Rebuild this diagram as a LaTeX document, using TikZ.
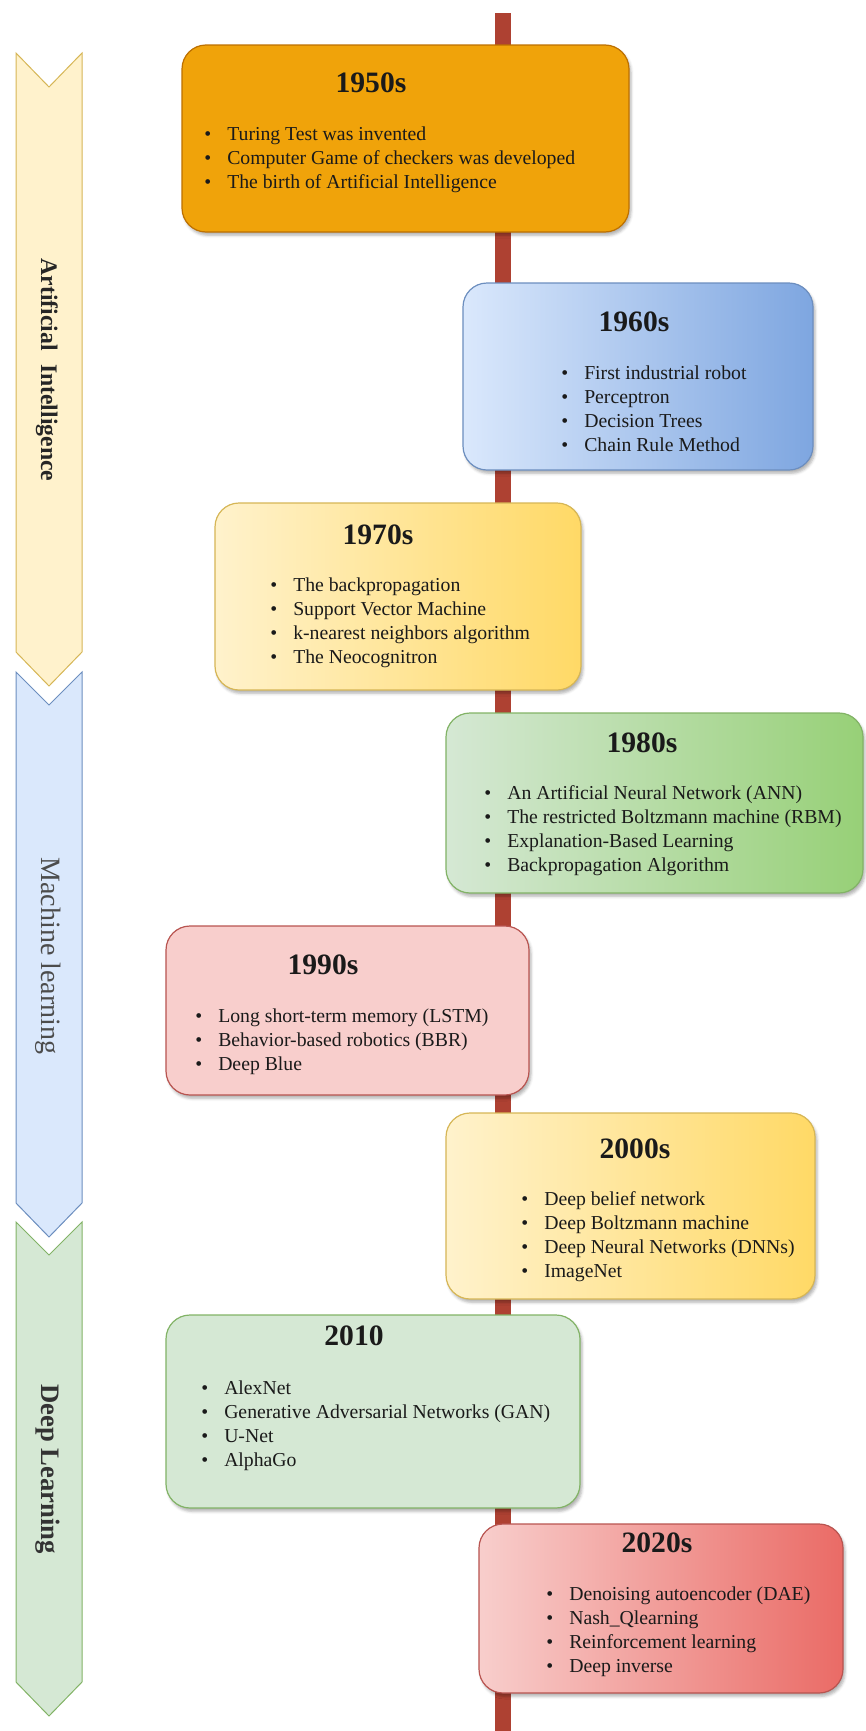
\documentclass[tikz,border=0pt]{standalone}
\usepackage{fontspec}
\setmainfont{Liberation Serif}
\usetikzlibrary{shadows.blur}

\definecolor{spine}{HTML}{AE4132}
\definecolor{ink}{HTML}{1A1A1A}
\definecolor{orangeF}{HTML}{F0A30A}
\definecolor{orangeD}{HTML}{BD7000}
\definecolor{blueL}{HTML}{DAE8FC}
\definecolor{blueR}{HTML}{7EA6E0}
\definecolor{blueD}{HTML}{6C8EBF}
\definecolor{yellowL}{HTML}{FFF2CC}
\definecolor{yellowR}{HTML}{FFD966}
\definecolor{yellowD}{HTML}{D6B656}
\definecolor{greenL}{HTML}{D5E8D4}
\definecolor{greenR}{HTML}{97D077}
\definecolor{greenD}{HTML}{82B366}
\definecolor{redL}{HTML}{F8CECC}
\definecolor{redR}{HTML}{EA6B66}
\definecolor{redD}{HTML}{B85450}

% one rounded decade card, given by its corners in pixel units
\newcommand\decadecard[6]{%
  \node[card,#6,
        minimum width={(#4-#2)*0.75pt},
        minimum height={(#5-#3)*0.75pt}]
        (#1) at ({(#2+#4)/2},{(#3+#5)/2}) {};}

% bulleted entries of a card: name prefix, text x, first baseline, items
\newcommand\cardentries[4]{%
  \foreach \t [count=\i] in {#4}{%
    \node[entry] (#1-\i) at (#2,{#3+(\i-1)*24}) {\llap{\textbullet\hspace{12pt}}\t};
  }}

\begin{document}
\begin{tikzpicture}[x=0.75pt,y=-0.75pt,
  card/.style={rectangle, rounded corners=18pt, draw, line width=0.9pt,
    inner sep=0pt, outer sep=0pt,
    blur shadow={shadow xshift=1.5pt, shadow yshift=-2.5pt,
      shadow opacity=30, shadow blur radius=2pt}},
  decade/.style={font=\fontsize{22.2pt}{24pt}\selectfont\bfseries,
    text=ink, anchor=base, inner sep=0pt},
  entry/.style={font=\fontsize{14.8pt}{17pt}\selectfont,
    text=ink, anchor=base west, inner sep=0pt},
  era/.style={rotate=-90, anchor=base, inner sep=0pt},
  band/.style={line width=0.75pt, line join=miter}
]
\useasboundingbox (0,0) rectangle (866,1731);

% the time axis behind the cards
\node[rectangle, fill=spine, draw=spine, inner sep=0pt,
      minimum width=11pt, minimum height={(1731-13)*0.75pt}]
      (axis) at (503,{(13+1731)/2}) {};

% era chevrons on the left
\draw[band, fill=yellowL, draw=yellowD]
  (16,53) -- (49,87) -- (82,53) -- (82,652) -- (49,686) -- (16,652) -- cycle;
\draw[band, fill=blueL, draw=blueD]
  (16,672) -- (49,705) -- (82,672) -- (82,1203) -- (49,1237) -- (16,1203) -- cycle;
\draw[band, fill=greenL, draw=greenD]
  (16,1222) -- (49,1255) -- (82,1222) -- (82,1682) -- (49,1716) -- (16,1682) -- cycle;

\node[era, font=\fontsize{17.8pt}{20pt}\selectfont\bfseries, text=black!85]
  (era-ai) at (41,370) {Artificial\hspace{0.55em}Intelligence};
\node[era, font=\fontsize{21pt}{23pt}\selectfont, text=black!70]
  (era-ml) at (41,956) {Machine learning};
\node[era, font=\fontsize{20pt}{22pt}\selectfont\bfseries, text=black!80]
  (era-dl) at (41,1469) {Deep Learning};

% decade cards
\decadecard{c1950}{182}{45}{629}{232}{fill=orangeF, draw=orangeD}
\decadecard{c1960}{463}{283}{813}{470}{left color=blueL, right color=blueR, draw=blueD}
\decadecard{c1970}{215}{503}{581}{690}{left color=yellowL, right color=yellowR, draw=yellowD}
\decadecard{c1980}{446}{713}{863}{893}{left color=greenL, right color=greenR, draw=greenD}
\decadecard{c1990}{166}{926}{529}{1095}{fill=redL, draw=redD}
\decadecard{c2000}{446}{1113}{815}{1299}{left color=yellowL, right color=yellowR, draw=yellowD}
\decadecard{c2010}{166}{1315}{580}{1508}{fill=greenL, draw=greenD}
\decadecard{c2020}{479}{1524}{843}{1693}{left color=redL, right color=redR, draw=redD}

% headings
\node[decade] (t1950) at (371,92.5) {1950s};
\node[decade] (t1960) at (634,331.5) {1960s};
\node[decade] (t1970) at (378,544.5) {1970s};
\node[decade] (t1980) at (642,752.5) {1980s};
\node[decade] (t1990) at (323,974.5) {1990s};
\node[decade] (t2000) at (635,1158.5) {2000s};
\node[decade] (t2010) at (354,1345.5) {2010};
\node[decade] (t2020) at (657,1552.5) {2020s};

% entries
\cardentries{e1950}{227}{140}{{Turing Test was invented},
  {Computer Game of checkers was developed},
  {The birth of Artificial Intelligence}}
\cardentries{e1960}{584}{379}{{First industrial robot},{Perceptron},
  {Decision Trees},{Chain Rule Method}}
\cardentries{e1970}{293}{591}{{The backpropagation},{Support Vector Machine},
  {k-nearest neighbors algorithm},{The Neocognitron}}
\cardentries{e1980}{507}{799}{{An Artificial Neural Network (ANN)},
  {The restricted Boltzmann machine (RBM)},
  {Explanation-Based Learning},{Backpropagation Algorithm}}
\cardentries{e1990}{218}{1022}{{Long short-term memory (LSTM)},
  {Behavior-based robotics (BBR)},{Deep Blue}}
\cardentries{e2000}{544}{1205}{{Deep belief network},{Deep Boltzmann machine},
  {Deep Neural Networks (DNNs)},{ImageNet}}
\cardentries{e2010}{224}{1394}{{AlexNet},{Generative Adversarial Networks (GAN)},
  {U-Net},{AlphaGo}}
\cardentries{e2020}{569}{1600}{{Denoising autoencoder (DAE)},{Nash\_Qlearning},
  {Reinforcement learning},{Deep inverse}}
\end{tikzpicture}
\end{document}
